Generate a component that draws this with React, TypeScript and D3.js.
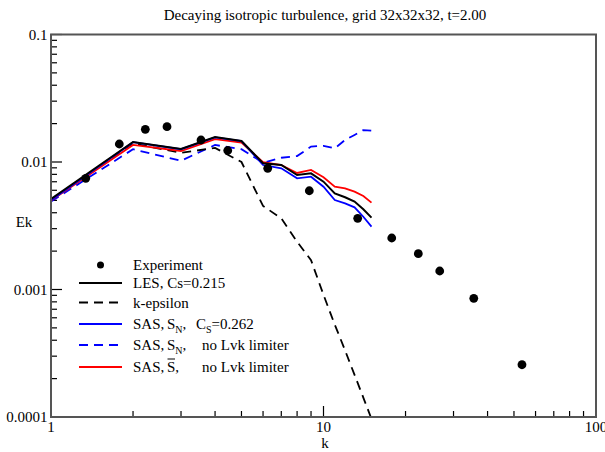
import React from "react";
import * as d3 from "d3";

const kSim = [1, 2, 3, 4, 5, 6, 7, 8, 9, 10, 11, 12, 13, 14, 15];
const les = [0.00513, 0.01435, 0.01265, 0.01571, 0.01462, 0.00977, 0.00947, 0.0079, 0.00815, 0.00701, 0.00568, 0.00529, 0.00489, 0.00426, 0.00366];
const kEps = [0.0050, 0.0140, 0.0118, 0.0129, 0.0100, 0.00452, 0.00362, 0.00237, 0.0017, 0.000908, 0.00053, 0.000333, 0.000214, 0.000142, 0.0000966];
const sasSN = [0.0050, 0.0143, 0.0126, 0.0156, 0.0146, 0.00947, 0.00893, 0.00745, 0.00767, 0.0064, 0.00503, 0.00474, 0.00441, 0.00372, 0.00311];
const sasNoLim = [0.0049, 0.0126, 0.01023, 0.0136, 0.0126, 0.00987, 0.0108, 0.01114, 0.0132, 0.0134, 0.0128, 0.01488, 0.0163, 0.0178, 0.0176];
const sasSbar = [0.0050, 0.0136, 0.0122, 0.0151, 0.01422, 0.00998, 0.00947, 0.0082, 0.00866, 0.00759, 0.0064, 0.00622, 0.00585, 0.00541, 0.0048];

const expK = [1.341, 1.781, 2.219, 2.665, 3.552, 4.452, 6.242, 8.87, 13.35, 17.8, 22.28, 26.7, 35.6, 53.5];
const expE = [0.00745, 0.01384, 0.01805, 0.01892, 0.01488, 0.01231, 0.00893, 0.00595, 0.003616, 0.002535, 0.001909, 0.001397, 0.000853, 0.000257];

const yTickVals = [0.0001, 0.001, 0.01, 0.1];
const yTickLabels = ["0.0001", "0.001", "0.01", "0.1"];
const xTickVals = [1, 10, 100];
const xTickLabels = ["1", "10", "100"];

const title = "Decaying isotropic turbulence, grid 32x32x32, t=2.00";

const W = 605, H = 452;
const L = 51, R = 596, T = 34.5, B = 417;
const FONT = '"Liberation Serif", "Times New Roman", Times, "DejaVu Serif", serif';

export default function App() {
  const x = d3.scaleLog().domain([1, 100]).range([L, R]);
  const y = d3.scaleLog().domain([0.0001, 0.1]).range([B, T]);
  const line = d3.line<[number, number]>().x(d => x(d[0])).y(d => y(d[1]));
  const mk = (vals: number[]) => line(kSim.map((k, i) => [k, vals[i]] as [number, number])) || "";

  const series = [
    { vals: sasNoLim, color: "#0000ff", dash: "9,6", w: 1.8 },
    { vals: kEps, color: "#000000", dash: "9,6", w: 1.8 },
    { vals: sasSbar, color: "#ff0000", dash: undefined, w: 1.8 },
    { vals: sasSN, color: "#0000ff", dash: undefined, w: 1.8 },
    { vals: les, color: "#000000", dash: undefined, w: 2 },
  ];

  const yMinor: number[] = [];
  for (let e = -4; e < -1; e++) for (let m = 2; m <= 9; m++) yMinor.push(m * Math.pow(10, e));
  const xMinor: number[] = [];
  for (let e = 0; e < 2; e++) for (let m = 2; m <= 9; m++) xMinor.push(m * Math.pow(10, e));

  const axisColor = "#555";
  const fs = 15;

  const legendRows = [
    { y: 265, type: "dot" },
    { y: 283, type: "line", color: "#000", dash: undefined },
    { y: 302.5, type: "line", color: "#000", dash: "9,6" },
    { y: 324, type: "line", color: "#0000ff", dash: undefined },
    { y: 345, type: "line", color: "#0000ff", dash: "9,6" },
    { y: 367, type: "line", color: "#ff0000", dash: undefined },
  ];

  return (
    <svg width={W} height={H} style={{ position: "absolute", left: 0, top: 0, background: "#fff", fontFamily: FONT }}>
      <defs>
        <clipPath id="plotclip">
          <rect x={L} y={T} width={R - L} height={B - T} />
        </clipPath>
      </defs>
      <rect x={0} y={0} width={W} height={H} fill="#fff" />
      <text x={325} y={20} textAnchor="middle" fontSize={15} fill="#000" style={{ fontFamily: FONT }}>{title}</text>

      {/* ticks */}
      {yTickVals.map((v, i) => (
        <g key={"yt" + i}>
          <line x1={L} x2={L + 11} y1={y(v)} y2={y(v)} stroke="#000" strokeWidth={1.2} />
          <text x={47.5} y={y(v) + 5} textAnchor="end" fontSize={fs} style={{ fontFamily: FONT }}>{yTickLabels[i]}</text>
        </g>
      ))}
      {yMinor.map((v, i) => (
        <line key={"ym" + i} x1={L} x2={L + 6} y1={y(v)} y2={y(v)} stroke="#000" strokeWidth={1.2} />
      ))}
      {xTickVals.map((v, i) => (
        <g key={"xt" + i}>
          <line x1={x(v)} x2={x(v)} y1={B} y2={B - 11} stroke="#000" strokeWidth={1.2} />
          <text x={x(v)} y={432} textAnchor="middle" fontSize={fs} style={{ fontFamily: FONT }}>{xTickLabels[i]}</text>
        </g>
      ))}
      {xMinor.map((v, i) => (
        <line key={"xm" + i} x1={x(v)} x2={x(v)} y1={B} y2={B - 6} stroke="#000" strokeWidth={1.2} />
      ))}

      <text x={325} y={448} textAnchor="middle" fontSize={fs} style={{ fontFamily: FONT }}>k</text>
      <text x={24} y={227} textAnchor="middle" fontSize={fs} style={{ fontFamily: FONT }}>Ek</text>

      {/* series */}
      <g clipPath="url(#plotclip)">
        {series.map((s, i) => (
          <path key={"s" + i} d={mk(s.vals)} fill="none" stroke={s.color} strokeWidth={s.w} strokeDasharray={s.dash} />
        ))}
        {expK.map((k, i) => (
          <circle key={"e" + i} cx={x(k)} cy={y(expE[i])} r={4.4} fill="#000" />
        ))}
      </g>

      {/* frame */}
      <rect x={L} y={T} width={R - L} height={B - T} fill="none" stroke={axisColor} strokeWidth={2} />

      {/* legend */}
      {legendRows.map((r, i) =>
        r.type === "dot" ? (
          <circle key={"l" + i} cx={100.5} cy={r.y} r={3.5} fill="#000" />
        ) : (
          <line key={"l" + i} x1={79} x2={122} y1={r.y} y2={r.y} stroke={r.color} strokeWidth={1.8} strokeDasharray={r.dash} />
        )
      )}
      <g fontSize={fs} fill="#000" style={{ fontFamily: FONT }}>
        <text x={133} y={270}>Experiment</text>
        <text x={133} y={288}>LES, Cs=0.215</text>
        <text x={133} y={307.5}>k-epsilon</text>
        <text x={133} y={329}>SAS,</text>
        <text x={167} y={329}>S<tspan fontSize={10} dy={4}>N</tspan><tspan dy={-4}>,</tspan></text>
        <text x={196} y={329}>C<tspan fontSize={10} dy={4}>S</tspan><tspan dy={-4}>=0.262</tspan></text>
        <text x={133} y={350}>SAS,</text>
        <text x={167} y={350}>S<tspan fontSize={10} dy={4}>N</tspan><tspan dy={-4}>,</tspan></text>
        <text x={202} y={350}>no Lvk limiter</text>
        <text x={133} y={372}>SAS,</text>
        <text x={167} y={372}>S,</text>
        <line x1={167.5} x2={175} y1={359} y2={359} stroke="#000" strokeWidth={1} />
        <text x={202} y={372}>no Lvk limiter</text>
      </g>
    </svg>
  );
}
